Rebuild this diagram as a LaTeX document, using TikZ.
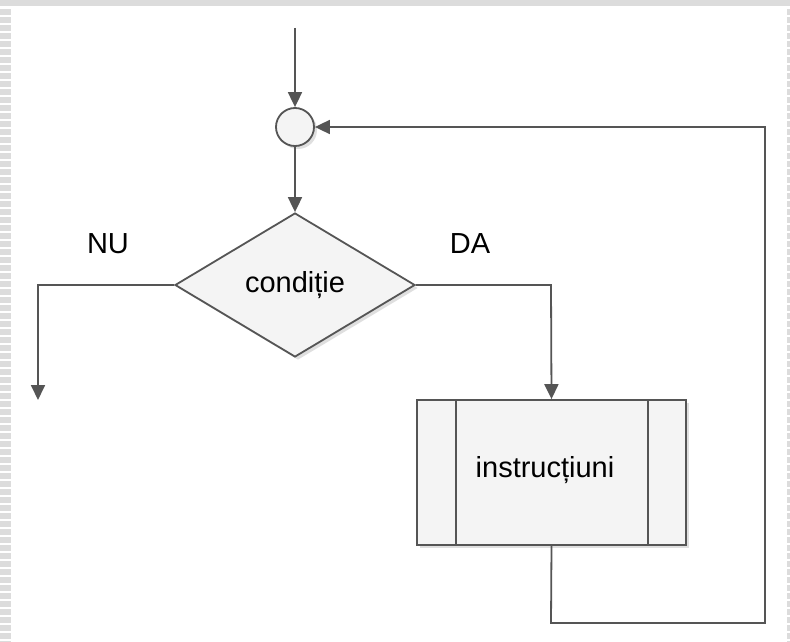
\documentclass[tikz,border=0pt]{standalone}
\usepackage{fontspec}
\setmainfont{Liberation Sans}
\usetikzlibrary{shapes.geometric,arrows.meta,shadows}
\definecolor{ln}{HTML}{555555}
\definecolor{fl}{HTML}{F4F4F4}
\definecolor{fr}{HTML}{DCDCDC}
\tikzset{
  conn/.style={draw=ln, line width=1.8pt},
  arr/.style={conn, -{Triangle[length=15pt,width=14pt]}},
  shp/.style={draw=ln, line width=1.8pt, fill=fl, drop shadow={shadow xshift=3pt,shadow yshift=-3pt,opacity=0.25}},
  lbl/.style={font=\fontsize{29}{33}\selectfont, text=black},
}
\begin{document}
\begin{tikzpicture}[x=1pt,y=-1pt]
\useasboundingbox (0,0) rectangle (790,642);
\fill[white] (0,0) rectangle (790,642);
\fill[fr] (0,0) rectangle (790,6);
\foreach \y in {9,17,...,642} {\fill[fr] (0,\y) rectangle (11,\y+6); \fill[fr] (787,\y) rectangle (790,\y+6);}
% nodes
\node[shp, circle, minimum size=38pt, inner sep=0] (c) at (295,127) {};
\node[shp, diamond, minimum width=240pt, minimum height=144pt, inner sep=0, aspect=1.67] (d) at (295,285) {};
\node[lbl] at (d.center) {condiție};
\node[shp, rectangle, minimum width=269pt, minimum height=145pt, inner sep=0] (b) at (551.5,472.5) {};
\draw[conn] ([xshift=40pt]b.north west) -- ([xshift=40pt]b.south west);
\draw[conn] ([xshift=-39pt]b.north east) -- ([xshift=-39pt]b.south east);
\node[lbl] at (545,470) {instrucțiuni};
\node[lbl] (nu) at (108,244) {NU};
\node[lbl] (da) at (470,244) {DA};
% coordinates
\coordinate (top) at (295,28);
\coordinate (lend) at (38,400);
\coordinate (l1) at (38,285);
\coordinate (r1) at (551,285);
\coordinate (b1) at (551,623);
\coordinate (b2) at (765,623);
\coordinate (b3) at (765,127);
% connectors
\draw[arr] (top) -- (c.north);
\draw[arr] (c.south) -- (d.north);
\draw[arr] (d.west) -- (l1) -- (lend);
\draw[arr] (d.east) -- (r1) -- (b.north);
\draw[arr] (b.south) -- (b1) -- (b2) -- (b3) -- (c.east);
\end{tikzpicture}
\end{document}
